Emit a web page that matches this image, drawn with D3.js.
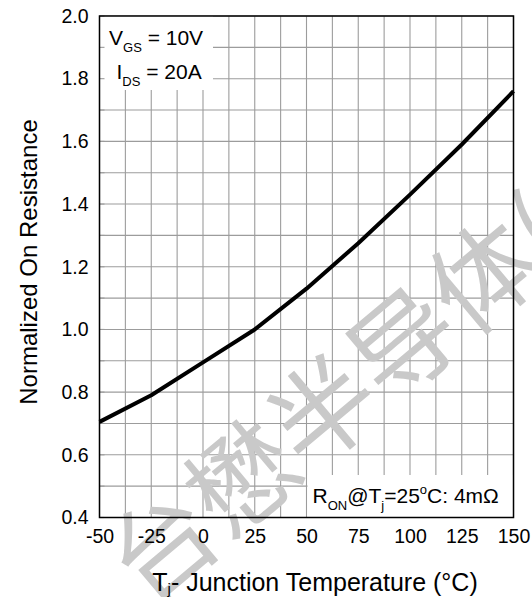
<!DOCTYPE html>
<html>
<head>
<meta charset="utf-8">
<script src="https://cdn.jsdelivr.net/npm/d3@7/dist/d3.min.js"></script>
<style>
  html, body { margin: 0; padding: 0; background: #fff; }
  svg { display: block; font-family: "Liberation Sans", Arial, sans-serif; }
</style>
</head>
<body>
<svg id="chart" width="532" height="597"></svg>
<script>
// ---- data ----
const temperatures = [-50, -25, 0, 25, 50, 75, 100, 125, 150];
const normRon      = [0.705, 0.79, 0.895, 1.0, 1.13, 1.275, 1.43, 1.59, 1.76];
const xTickValues  = [-50, -25, 0, 25, 50, 75, 100, 125, 150];
const yTickValues  = [0.4, 0.6, 0.8, 1.0, 1.2, 1.4, 1.6, 1.8, 2.0];
const xGridValues  = d3.range(-50, 150.001, 12.5);
const yGridValues  = d3.range(4, 20.001, 1).map(d => d / 10);
const xLabel = "- Junction Temperature (°C)";
const yLabel = "Normalized On Resistance";
const watermark = "台懋半导体(";

// ---- layout ----
const L = 99.5, R = 513.5, T = 16, B = 517.5;
const svg = d3.select("#chart");
const x = d3.scaleLinear().domain([-50, 150]).range([L, R]);
const y = d3.scaleLinear().domain([0.4, 2.0]).range([B, T]);

// grid
const grid = svg.append("g").attr("stroke", "#9c9c9c").attr("stroke-width", 1.1);
grid.selectAll("line.v").data(xGridValues).enter().append("line")
  .attr("x1", d => x(d)).attr("x2", d => x(d)).attr("y1", T).attr("y2", B);
grid.selectAll("line.h").data(yGridValues).enter().append("line")
  .attr("x1", L).attr("x2", R).attr("y1", d => y(d)).attr("y2", d => y(d));

// watermark
svg.append("text")
  .attr("transform", "translate(332,394) rotate(-40)")
  .attr("text-anchor", "middle")
  .attr("dominant-baseline", "central")
  .attr("font-family", "'Noto Sans CJK SC', sans-serif")
  .attr("font-size", 105)
  .attr("fill", "#c9c9c9")
  .text(watermark);

// white annotation boxes
svg.append("rect").attr("x", L).attr("y", T).attr("width", 213 - L).attr("height", 90 - T).attr("fill", "#fff");
svg.append("rect").attr("x", 307.5).attr("y", 475).attr("width", R - 307.5).attr("height", B - 475).attr("fill", "#fff");

// small inner ticks on left axis
svg.append("g").attr("stroke", "#9c9c9c").attr("stroke-width", 1.1)
  .selectAll("line").data(yGridValues).enter().append("line")
  .attr("x1", L).attr("x2", L + 5).attr("y1", d => y(d)).attr("y2", d => y(d));

// curve
const line = d3.line().x(d => x(d[0])).y(d => y(d[1]));
svg.append("path")
  .datum(temperatures.map((t, i) => [t, normRon[i]]))
  .attr("d", line)
  .attr("fill", "none")
  .attr("stroke", "#000")
  .attr("stroke-width", 4)
  .attr("stroke-linejoin", "round");

// frame
svg.append("rect").attr("x", L).attr("y", T).attr("width", R - L).attr("height", B - T)
  .attr("fill", "none").attr("stroke", "#000").attr("stroke-width", 1.5);

// axes
const xAxis = svg.append("g").attr("transform", `translate(0,${B})`)
  .call(d3.axisBottom(x).tickValues(xTickValues).tickSize(0).tickPadding(12).tickFormat(d => String(d)));
const yAxis = svg.append("g").attr("transform", `translate(${L},0)`)
  .call(d3.axisLeft(y).tickValues(yTickValues).tickSize(0).tickPadding(11).tickFormat(d => d.toFixed(1)));
[xAxis, yAxis].forEach(a => {
  a.select(".domain").remove();
  a.selectAll("text").attr("font-size", 19.5).attr("fill", "#000")
    .attr("font-family", "'Liberation Sans', Arial, sans-serif");
});

// axis titles
const xt = svg.append("text").attr("x", 315).attr("y", 591).attr("text-anchor", "middle")
  .attr("font-size", 25).attr("fill", "#000");
xt.append("tspan").text("T");
xt.append("tspan").attr("font-size", 15).attr("dy", 3).text("j");
xt.append("tspan").attr("dy", -3).text(xLabel);

svg.append("text").attr("transform", "translate(37,262) rotate(-90)")
  .attr("text-anchor", "middle").attr("font-size", 24).attr("fill", "#000").text(yLabel);

// annotations
const a1 = svg.append("text").attr("x", 109).attr("y", 45).attr("font-size", 21).attr("fill", "#000");
a1.append("tspan").text("V");
a1.append("tspan").attr("font-size", 13).attr("dy", 7).text("GS");
a1.append("tspan").attr("dy", -7).text(" = 10V");

const a2 = svg.append("text").attr("x", 116.5).attr("y", 79).attr("font-size", 21).attr("fill", "#000");
a2.append("tspan").text("I");
a2.append("tspan").attr("font-size", 13).attr("dy", 7).text("DS");
a2.append("tspan").attr("dy", -7).text(" = 20A");

const a3 = svg.append("text").attr("x", 312.5).attr("y", 502.5).attr("font-size", 21).attr("fill", "#000");
a3.append("tspan").text("R");
a3.append("tspan").attr("font-size", 13).attr("dy", 7).text("ON");
a3.append("tspan").attr("dy", -7).text("@T");
a3.append("tspan").attr("font-size", 13).attr("dy", 7).text("j");
a3.append("tspan").attr("dy", -7).text("=25");
a3.append("tspan").attr("font-size", 13).attr("dy", -9).text("o");
a3.append("tspan").attr("dy", 9).text("C: 4mΩ");
</script>
</body>
</html>
